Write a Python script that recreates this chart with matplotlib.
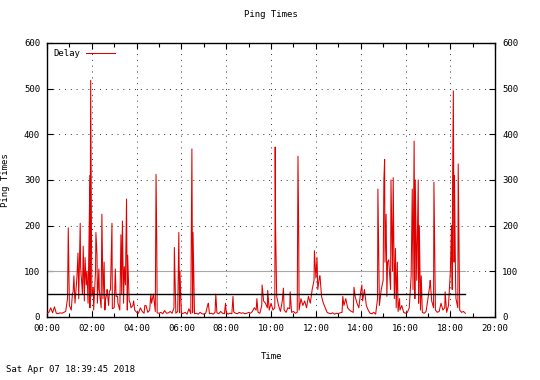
import numpy as np
import matplotlib
matplotlib.use('Agg')
import matplotlib.pyplot as plt

# baseline ping delay (ms), one value every 5 minutes, one row per hour
BASE_ROWS = [
    [8, 10, 20, 9, 22, 8, 7, 9, 8, 10, 12, 40],
    [25, 15, 55, 30, 85, 40, 110, 50, 35, 70, 30, 20],
    [45, 15, 100, 30, 60, 20, 40, 15, 50, 25, 60, 18],
    [20, 45, 30, 15, 50, 30, 70, 15, 35, 20, 25, 15],
    [10, 8, 20, 12, 8, 25, 10, 15, 30, 50, 12, 9],
    [8, 10, 7, 14, 8, 9, 12, 8, 20, 8, 12, 9],
    [7, 8, 10, 6, 18, 7, 9, 7, 8, 6, 10, 7],
    [6, 8, 25, 7, 8, 6, 10, 9, 7, 12, 8, 7],
    [9, 6, 8, 7, 11, 8, 7, 10, 8, 9, 7, 8],
    [10, 8, 12, 20, 15, 10, 8, 25, 35, 30, 20, 15],
    [30, 15, 20, 45, 25, 12, 35, 15, 10, 20, 18, 10],
    [12, 8, 10, 15, 40, 25, 35, 20, 45, 30, 60, 80],
    [85, 60, 90, 45, 30, 20, 10, 8, 7, 9, 6, 8],
    [7, 9, 10, 25, 40, 20, 15, 12, 10, 45, 30, 20],
    [55, 35, 60, 25, 15, 8, 7, 10, 6, 40, 25, 60],
    [80, 120, 45, 125, 60, 100, 40, 20, 12, 15, 25, 10],
    [8, 10, 20, 90, 60, 40, 80, 30, 15, 10, 8, 12],
    [40, 70, 35, 20, 15, 10, 12, 30, 15, 20, 10, 25],
    [100, 60, 120, 40, 20, 15, 10, 12, 8],
]

# individual spikes (time, delay)
SPIKE_TIMES = [
    "00:57", "01:08", "01:12", "01:23", "01:29", "01:37", "01:42", "01:47",
    "01:55", "01:57", "02:04", "02:11", "02:14", "02:19", "02:27", "02:33",
    "02:37", "02:41", "02:47", "02:54", "03:03", "03:09", "03:18", "03:22",
    "03:27", "03:33", "03:36", "03:43", "03:52", "04:22", "04:38", "04:52",
    "04:54", "05:41", "05:53", "05:56", "06:28", "06:31", "07:12", "07:32",
    "07:58", "08:18", "09:22", "09:36", "09:51", "10:11", "10:12", "10:33",
    "10:51", "11:12", "11:14", "11:56", "12:03", "12:11", "13:12", "13:42",
    "14:03", "14:46", "15:02", "15:04", "15:08", "15:12", "15:21", "15:27",
    "15:33", "15:38", "15:44", "16:18", "16:23", "16:26", "16:34", "16:37",
    "16:42", "17:06", "17:16", "17:46", "18:03", "18:06", "18:08", "18:11",
    "18:14", "18:21", "18:23",
]
SPIKE_VALUES = [
    195, 50, 90, 140, 205, 155, 130, 100,
    310, 518, 65, 185, 135, 105, 225, 120,
    40, 60, 55, 205, 105, 45, 180, 210,
    110, 258, 135, 30, 35, 25, 50, 312,
    160, 152, 185, 100, 368, 185, 30, 50,
    30, 45, 40, 70, 58, 372, 200, 63,
    55, 352, 180, 145, 130, 90, 45, 65,
    70, 280, 300, 345, 225, 120, 300, 305,
    150, 120, 40, 280, 385, 300, 300, 200,
    90, 80, 295, 55, 200, 300, 495, 310,
    75, 335, 180,
]

XTICK_LABELS = ["00:00", "02:00", "04:00", "06:00", "08:00", "10:00",
                "12:00", "14:00", "16:00", "18:00", "20:00"]
END_TIME = "18:40"


def hours(s):
    h, m = s.split(':')
    return int(h) + int(m) / 60.0


# merge baseline and spikes into one time series
times = []
values = []
for h, row in enumerate(BASE_ROWS):
    for i, v in enumerate(row):
        times.append(h + i * 5 / 60.0)
        values.append(v)
for t, v in zip(SPIKE_TIMES, SPIKE_VALUES):
    times.append(hours(t))
    values.append(v)
order = np.argsort(times)
times = np.array(times)[order]
values = np.array(values)[order]

plt.rcParams['font.family'] = 'DejaVu Sans Mono'
plt.rcParams['font.size'] = 6.5

fig = plt.figure(figsize=(5.4, 3.8), dpi=100)
ax = fig.add_axes([0.087, 0.166, 0.830, 0.721])

ax.set_xlim(0, 20)
ax.set_ylim(0, 600)

ax.grid(True, which='major', color='#333333', linestyle=(0, (1, 5)), linewidth=0.7)

end = hours(END_TIME)
ax.plot([0, end], [100, 100], color='#a8a8a8', linewidth=0.8, zorder=2)
ax.plot(times, values, color='#e00000', linewidth=0.75, zorder=3, label='Delay')
ax.plot([0, end], [50, 50], color='black', linewidth=1.0, zorder=4)

ax.set_xticks(np.arange(0, 20.01, 2))
ax.set_xticklabels(XTICK_LABELS)
ax.set_xticks(np.arange(1, 20, 2), minor=True)
ax.set_yticks(np.arange(0, 601, 100))

ax.tick_params(which='both', direction='in', top=True, right=True,
               labelright=True, length=4, width=0.8, pad=5)
ax.tick_params(which='minor', length=3)

for s in ax.spines.values():
    s.set_linewidth(1.0)

ax.set_title("Ping Times", fontsize=6.5, pad=19)
ax.set_xlabel("Time", labelpad=14)
ax.set_ylabel("Ping Times", labelpad=10)

ax.legend(loc='upper left', frameon=False, markerfirst=False,
          handlelength=3.3, handletextpad=0.6, borderaxespad=0.3, fontsize=6.5)

fig.text(0.011, 0.02, "Sat Apr 07 18:39:45 2018", fontsize=6.5)

plt.savefig('out.png', dpi=100)
plt.close()
